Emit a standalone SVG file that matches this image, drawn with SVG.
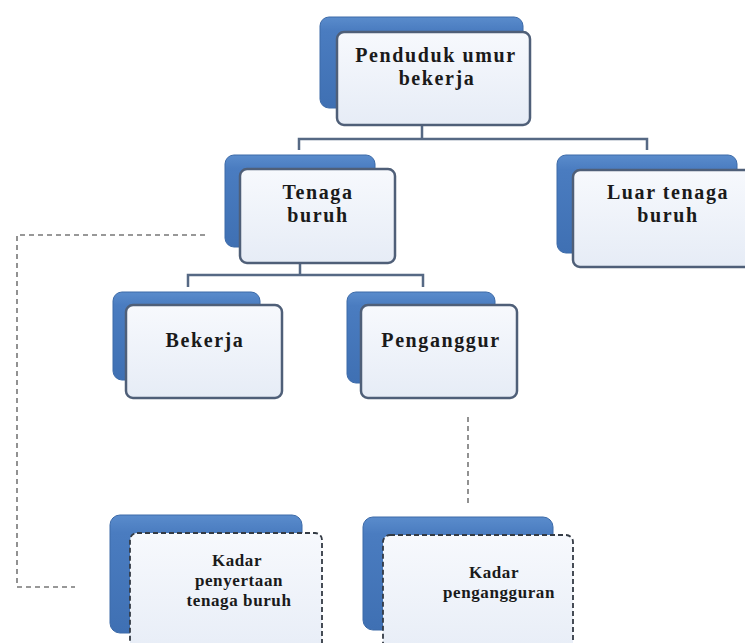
<svg xmlns="http://www.w3.org/2000/svg" width="745" height="643" viewBox="0 0 745 643">
<defs>
<linearGradient id="gBack" x1="0" y1="0" x2="0" y2="1">
<stop offset="0" stop-color="#5a8ccc"/>
<stop offset="0.15" stop-color="#4a7cc0"/>
<stop offset="1" stop-color="#3f70b3"/>
</linearGradient>
<linearGradient id="gFront" x1="0" y1="0" x2="0" y2="1">
<stop offset="0" stop-color="#f7f9fd"/>
<stop offset="1" stop-color="#e6ecf6"/>
</linearGradient>
<style>
.back{fill:url(#gBack);stroke:#3c6aa8;stroke-width:1}
.front{fill:url(#gFront);stroke:#4f5f78;stroke-width:2.5}
.frontd{fill:url(#gFront);stroke:#333a44;stroke-width:1.8;stroke-dasharray:5 3}
.t{font-family:"Liberation Serif","Times New Roman",serif;font-weight:bold;fill:#1a1a1a;text-anchor:middle}
.big{font-size:20px;letter-spacing:1.6px}
.small{font-size:17px;letter-spacing:0.6px}
.conn{fill:none;stroke:#566984;stroke-width:2.5}
.dash{fill:none;stroke:#777;stroke-width:1.6;stroke-dasharray:5 4}
</style>
</defs>
<rect width="745" height="643" fill="#fff"/>
<g id="connectors">
<path class="conn" d="M422,125 V139 M299,150 V139 H647 V150"/>
<path class="conn" d="M300,263 V275 M188,287 V275 H423 V287"/>
<path class="dash" d="M205,235 H17 V587 H75"/>
<path class="dash" d="M468,417 V507"/>
</g>
<g id="penduduk">
<rect class="back" x="320" y="17" width="203" height="91" rx="9"/>
<rect class="front" x="337" y="32" width="193" height="93" rx="7"/>
<text class="t big" x="436" y="62">Penduduk umur</text>
<text class="t big" x="437" y="85">bekerja</text>
</g>
<g id="tenaga">
<rect class="back" x="225" y="155" width="150" height="92" rx="9"/>
<rect class="front" x="240" y="169" width="155" height="94" rx="7"/>
<text class="t big" x="318" y="199">Tenaga</text>
<text class="t big" x="318" y="222">buruh</text>
</g>
<g id="luar">
<rect class="back" x="557" y="155" width="180" height="98" rx="9"/>
<rect class="front" x="573" y="170" width="180" height="97" rx="7"/>
<text class="t big" x="668" y="199">Luar tenaga</text>
<text class="t big" x="668" y="222">buruh</text>
</g>
<g id="bekerja">
<rect class="back" x="113" y="292" width="147" height="88" rx="9"/>
<rect class="front" x="126" y="305" width="156" height="93" rx="7"/>
<text class="t big" x="205" y="347">Bekerja</text>
</g>
<g id="penganggur">
<rect class="back" x="347" y="292" width="148" height="91" rx="9"/>
<rect class="front" x="361" y="305" width="156" height="93" rx="7"/>
<text class="t big" x="441" y="347">Penganggur</text>
</g>
<g id="kadar-penyertaan">
<rect class="back" x="110" y="515" width="192" height="118" rx="10"/>
<rect class="frontd" x="130" y="533" width="192" height="130" rx="7"/>
<text class="t small" x="237" y="566">Kadar</text>
<text class="t small" x="239" y="586">penyertaan</text>
<text class="t small" x="239" y="606">tenaga buruh</text>
</g>
<g id="kadar-pengangguran">
<rect class="back" x="363" y="517" width="190" height="113" rx="10"/>
<rect class="frontd" x="383" y="535" width="190" height="130" rx="7"/>
<text class="t small" x="494" y="578">Kadar</text>
<text class="t small" x="499" y="598">pengangguran</text>
</g>
</svg>
